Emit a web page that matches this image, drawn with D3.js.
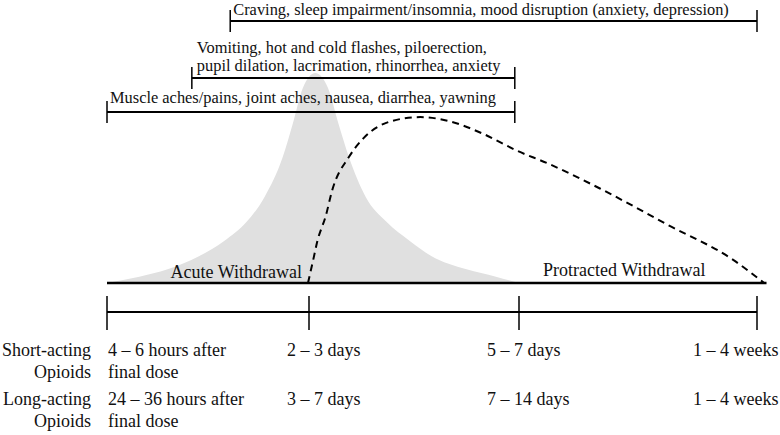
<!DOCTYPE html>
<html lang="en">

<head>
    <meta charset="UTF-8">
    <title>Opioid withdrawal timeline</title>
    <style>
        body {
            padding: 0;
            margin: 0;
            background: #fff;
        }

        text {
            font-family: "Liberation Serif", "Times New Roman", serif;
            fill: #111;
        }
    </style>
</head>

<body>
    <script src="https://d3js.org/d3.v7.min.js"></script>
    <script>
        // stage positions on the timeline (0 = final dose ... 3 = weeks)
        const stages = [0, 1, 2, 3]

        // acute withdrawal intensity (gray peak)
        const acuteX = [0, 0.16, 0.3, 0.46, 0.58, 0.69, 0.78, 0.87, 0.92, 0.97, 1.03, 1.09, 1.14, 1.19, 1.27, 1.37, 1.48, 1.58, 1.75, 1.89, 2.0]
        const acuteY = [0, 0.03, 0.065, 0.13, 0.2, 0.29, 0.41, 0.6, 0.76, 0.93, 1, 0.93, 0.76, 0.6, 0.41, 0.29, 0.2, 0.13, 0.065, 0.03, 0]

        // protracted withdrawal intensity (dashed curve)
        const protractedX = [0.995, 1.02, 1.04, 1.08, 1.11, 1.19, 1.26, 1.39, 1.53, 1.67, 1.83, 1.99, 2.12, 2.34, 2.62, 2.9, 3.03]
        const protractedY = [0, 0.11, 0.2, 0.32, 0.44, 0.6, 0.69, 0.77, 0.79, 0.77, 0.71, 0.63, 0.57, 0.45, 0.28, 0.11, 0]

        // symptom brackets: text lines, start stage, end stage
        const symptomText = [
            ['Craving, sleep impairment/insomnia, mood disruption (anxiety, depression)'],
            ['Vomiting, hot and cold flashes, piloerection,', 'pupil dilation, lacrimation, rhinorrhea, anxiety'],
            ['Muscle aches/pains, joint aches, nausea, diarrhea, yawning']
        ]
        const symptomStart = [0.61, 0.42, 0]
        const symptomEnd = [3, 1.98, 1.98]

        const phaseLabels = ['Acute Withdrawal', 'Protracted Withdrawal']

        // onset table
        const rowLabels = [['Short-acting', 'Opioids'], ['Long-acting', 'Opioids']]
        const shortActing = [['4 – 6 hours after', 'final dose'], ['2 – 3 days'], ['5 – 7 days'], ['1 – 4 weeks']]
        const longActing = [['24 – 36 hours after', 'final dose'], ['3 – 7 days'], ['7 – 14 days'], ['1 – 4 weeks']]

        const width = 780
        const height = 435

        const svg = d3.select('body')
            .append('svg')
            .attr('width', width)
            .attr('height', height)

        // scales
        let x = d3.scaleLinear().domain(stages).range([107, 309, 519, 757])
        let y = d3.scaleLinear().domain([0, 1]).range([283, 73])

        // gray peak
        const acute = acuteX.map((d, i) => [d, acuteY[i]])
        svg.append('path')
            .attr('d', d3.area()
                .x(d => x(d[0]))
                .y0(y(0))
                .y1(d => y(d[1]))
                .curve(d3.curveMonotoneX)(acute))
            .attr('fill', '#e0e0e0')

        // baseline
        svg.append('line')
            .attr('x1', x(0)).attr('x2', x(3.04))
            .attr('y1', y(0)).attr('y2', y(0))
            .attr('stroke', '#000')
            .attr('stroke-width', 2.5)

        // dashed curve
        const protracted = protractedX.map((d, i) => [d, protractedY[i]])
        svg.append('path')
            .attr('d', d3.line()
                .x(d => x(d[0]))
                .y(d => y(d[1]))
                .curve(d3.curveMonotoneX)(protracted))
            .attr('fill', 'none')
            .attr('stroke', '#000')
            .attr('stroke-width', 2)
            .attr('stroke-dasharray', '7,5')

        // phase labels
        svg.append('text')
            .attr('x', 302).attr('y', 278)
            .attr('text-anchor', 'end')
            .attr('font-size', 18)
            .text(phaseLabels[0])
        svg.append('text')
            .attr('x', 543).attr('y', 276)
            .attr('font-size', 18)
            .text(phaseLabels[1])

        // symptom brackets
        const bracketY = [21, 78, 112]
        const textY = [15, 53, 103]
        const b = svg.append('g')
            .selectAll('g')
            .data(symptomText)
            .enter()
            .append('g')
        b.append('line')
            .attr('x1', (d, i) => x(symptomStart[i]))
            .attr('x2', (d, i) => x(symptomEnd[i]))
            .attr('y1', (d, i) => bracketY[i])
            .attr('y2', (d, i) => bracketY[i])
            .attr('stroke', '#000')
            .attr('stroke-width', 2)
        b.append('line')
            .attr('x1', (d, i) => x(symptomStart[i]))
            .attr('x2', (d, i) => x(symptomStart[i]))
            .attr('y1', (d, i) => bracketY[i] - 11)
            .attr('y2', (d, i) => bracketY[i] + 11)
            .attr('stroke', '#000')
            .attr('stroke-width', 1.5)
        b.append('line')
            .attr('x1', (d, i) => x(symptomEnd[i]))
            .attr('x2', (d, i) => x(symptomEnd[i]))
            .attr('y1', (d, i) => bracketY[i] - 11)
            .attr('y2', (d, i) => bracketY[i] + 11)
            .attr('stroke', '#000')
            .attr('stroke-width', 1.5)
        b.append('text')
            .attr('x', (d, i) => x(symptomStart[i]) + (i == 1 ? 5 : 3))
            .attr('y', (d, i) => textY[i])
            .attr('font-size', 16.4)
            .selectAll('tspan')
            .data(d => d)
            .enter()
            .append('tspan')
            .attr('x', function () { return this.parentNode.getAttribute('x') })
            .attr('dy', (d, j) => j == 0 ? 0 : 18)
            .text(d => d)

        // timeline axis
        const axisY = 312
        svg.append('line')
            .attr('x1', x(0)).attr('x2', x(3))
            .attr('y1', axisY).attr('y2', axisY)
            .attr('stroke', '#000')
            .attr('stroke-width', 2)
        svg.append('g')
            .selectAll('line')
            .data(stages)
            .enter()
            .append('line')
            .attr('x1', d => x(d)).attr('x2', d => x(d))
            .attr('y1', axisY - 16).attr('y2', axisY + 18)
            .attr('stroke', '#000')
            .attr('stroke-width', 1.5)

        // onset table
        const colX = [108, 287, 487, 693]
        const rowY = [356, 405]
        const lineH = 22
        rowLabels.forEach((lab, r) => {
            svg.append('text')
                .attr('x', 91).attr('y', rowY[r])
                .attr('text-anchor', 'end')
                .attr('font-size', 18)
                .selectAll('tspan')
                .data(lab)
                .enter()
                .append('tspan')
                .attr('x', 91)
                .attr('dy', (d, j) => j == 0 ? 0 : lineH)
                .text(d => d);
            [shortActing, longActing][r].forEach((cell, c) => {
                svg.append('text')
                    .attr('x', colX[c]).attr('y', rowY[r])
                    .attr('font-size', 18)
                    .selectAll('tspan')
                    .data(cell)
                    .enter()
                    .append('tspan')
                    .attr('x', colX[c])
                    .attr('dy', (d, j) => j == 0 ? 0 : lineH)
                    .text(d => d)
            })
        })
    </script>
</body>

</html>
